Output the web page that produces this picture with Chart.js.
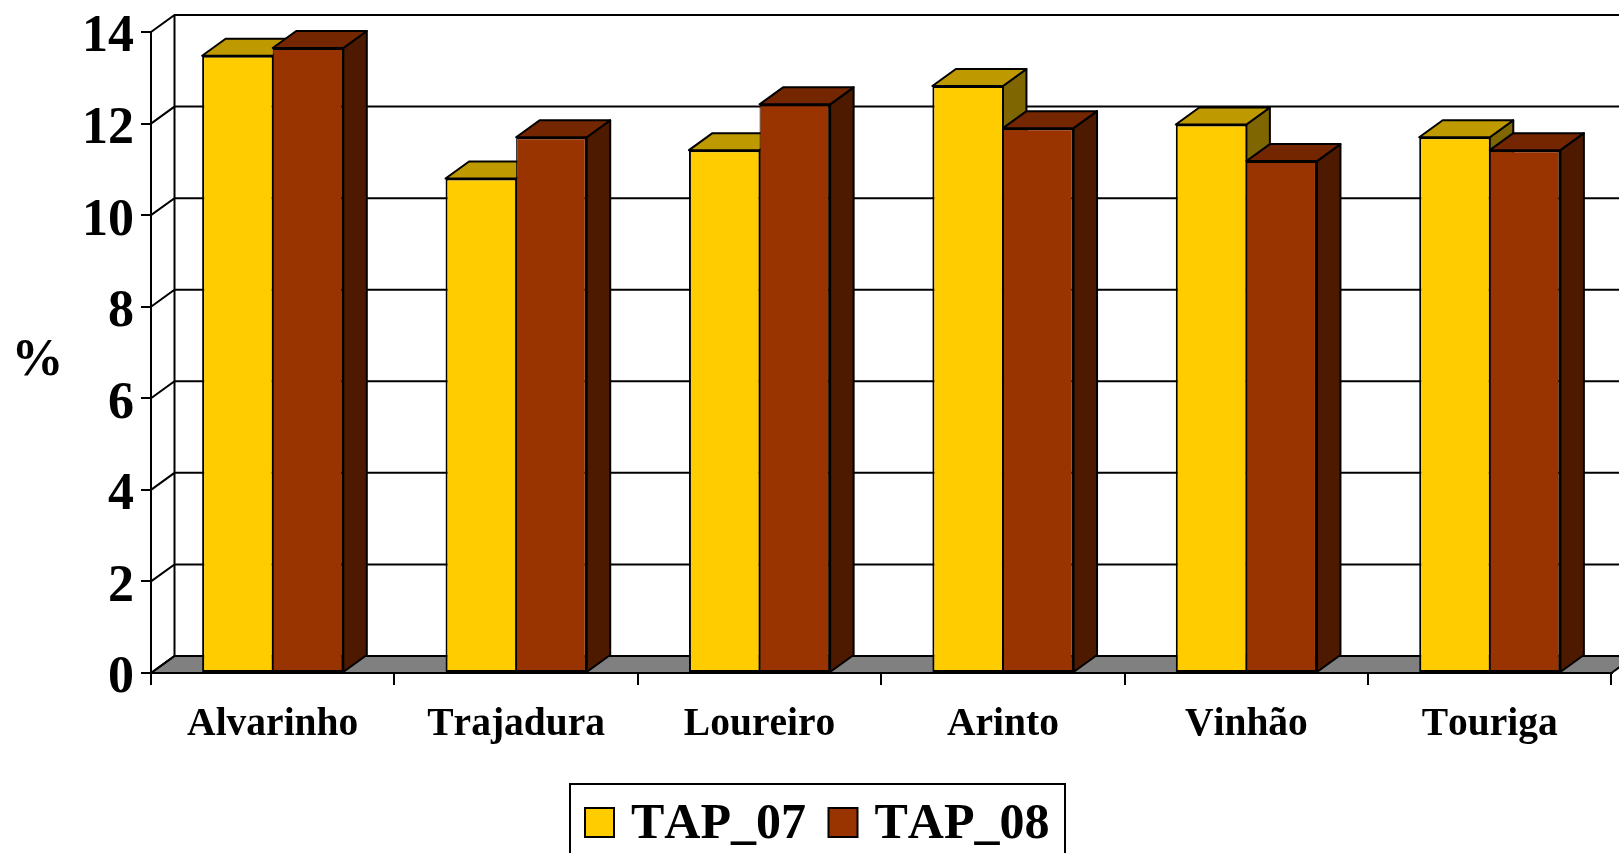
<!DOCTYPE html>
<html>
<head>
<meta charset="utf-8">
<title>TAP</title>
<script src="https://cdn.jsdelivr.net/npm/chart.js@4"></script>
<style>
  html, body { margin: 0; padding: 0; background: #fff; overflow: hidden; }
  canvas { display: block; }
</style>
</head>
<body>
<canvas id="barchart" width="1619" height="853"></canvas>
<script>
// values
const categories = ['Alvarinho', 'Trajadura', 'Loureiro', 'Arinto', 'Vinhão', 'Touriga'];
const tap07 = [13.48, 10.8, 11.42, 12.82, 11.98, 11.7];
const tap08 = [13.65, 11.7, 12.42, 11.9, 11.18, 11.42];
const yTicks = [0, 2, 4, 6, 8, 10, 12, 14];

const FONT = '"Liberation Serif", "Times New Roman", serif';
// depth of the fake 3D box
const DX = 23.5;
const DY = 17;

function poly(ctx, pts, fill) {
    ctx.beginPath();
    ctx.moveTo(pts[0][0], pts[0][1]);
    for (let i = 1; i < pts.length; i++) ctx.lineTo(pts[i][0], pts[i][1]);
    ctx.closePath();
    ctx.fillStyle = fill;
    ctx.fill();
    ctx.stroke();
}

const box3d = {
    id: 'box3d',
    beforeDraw(chart) {
        // the original has no kerning (Tr, To, TA)
        chart.ctx.fontKerning = 'none';
    },
    // walls and floor first, then the series left one first so the brown sits on the yellow
    beforeDatasetsDraw(chart) {
        const ctx = chart.ctx;
        const y = chart.scales.y;
        const a = chart.chartArea;
        const right = a.right + DX;
        ctx.save();
        ctx.strokeStyle = '#000';
        ctx.lineWidth = 2;
        poly(ctx, [[a.left, a.bottom], [a.left + DX, a.bottom - DY], [right, a.bottom - DY], [a.right, a.bottom]], '#808080');
        ctx.beginPath();
        yTicks.forEach(v => {
            const py = y.getPixelForValue(v);
            ctx.moveTo(a.left, py);
            ctx.lineTo(a.left + DX, py - DY);
            ctx.lineTo(right, py - DY);
        });
        ctx.moveTo(a.left + DX, a.top - DY);
        ctx.lineTo(a.left + DX, a.bottom - DY);
        ctx.stroke();

        ctx.lineJoin = 'round';
        chart.data.datasets.forEach((ds, i) => {
            const meta = chart.getDatasetMeta(i);
            meta.data.forEach(bar => {
                const l = bar.x - bar.width / 2;
                const r = bar.x + bar.width / 2;
                const t = bar.y;
                const b = bar.base;
                poly(ctx, [[r, t], [r + DX, t - DY], [r + DX, b - DY], [r, b]], ds.sideColor);
                poly(ctx, [[l, t], [l + DX, t - DY], [r + DX, t - DY], [r, t]], ds.topColor);
            });
            meta.controller.draw();
        });
        ctx.restore();
        return false;
    },
    // legend box and the % label, legend runs off the bottom of the page like the original
    afterDraw(chart) {
        const ctx = chart.ctx;
        ctx.save();
        ctx.strokeStyle = '#000';
        ctx.lineWidth = 2;
        ctx.strokeRect(570, 784, 495, 100);
        ctx.textBaseline = 'alphabetic';
        ctx.font = 'bold 50px ' + FONT;
        chart.data.datasets.forEach((ds, i) => {
            const x = 585 + i * 243.5;
            ctx.fillStyle = ds.backgroundColor;
            ctx.fillRect(x, 808, 29, 29);
            ctx.strokeRect(x, 808, 29, 29);
            ctx.fillStyle = '#000';
            ctx.fillText(ds.label, x + 46, 838);
        });
        ctx.font = 'bold 52px ' + FONT;
        ctx.textAlign = 'center';
        ctx.fillText('%', 37.5, 374.5);
        ctx.restore();
    }
};

new Chart(document.getElementById('barchart'), {
    type: 'bar',
    data: {
        labels: categories,
        datasets: [
            {
                label: 'TAP_07', data: tap07, backgroundColor: '#FFCC00', topColor: '#BF9900', sideColor: '#806600',
                borderWidth: { top: 2, left: 2, bottom: 2, right: 1 }
            },
            {
                label: 'TAP_08', data: tap08, backgroundColor: '#993300', topColor: '#732600', sideColor: '#4D1A00',
                borderWidth: { top: 2, left: 1, bottom: 2, right: 2 }
            }
        ]
    },
    options: {
        responsive: false,
        animation: false,
        layout: { padding: { top: 32, right: 7.5, left: 0, bottom: 0 } },
        datasets: {
            bar: {
                categoryPercentage: 0.58,
                barPercentage: 1,
                borderColor: '#000',
                borderSkipped: false
            }
        },
        plugins: {
            legend: { display: false },
            tooltip: { enabled: false }
        },
        scales: {
            x: {
                afterFit(scale) { scale.height = 180; },
                grid: { drawOnChartArea: false, color: '#000', tickLength: 12, lineWidth: 2 },
                border: { color: '#000', width: 2 },
                ticks: {
                    color: '#000',
                    padding: 16,
                    maxRotation: 0,
                    font: { family: FONT, size: 39.5, weight: 'bold' }
                }
            },
            y: {
                min: 0,
                max: 14,
                afterFit(scale) { scale.width = 151; },
                afterBuildTicks(scale) { scale.ticks = yTicks.map(v => ({ value: v })); },
                grid: { drawOnChartArea: false, color: '#000', tickLength: 10, lineWidth: 2 },
                border: { color: '#000', width: 2 },
                ticks: {
                    color: '#000',
                    padding: 7,
                    // empty first line + small line height pushes the number below its tick
                    callback: v => ['', String(v)],
                    font: { family: FONT, size: 52, weight: 'bold', lineHeight: '12px' }
                }
            }
        }
    },
    plugins: [box3d]
});
</script>
</body>
</html>
